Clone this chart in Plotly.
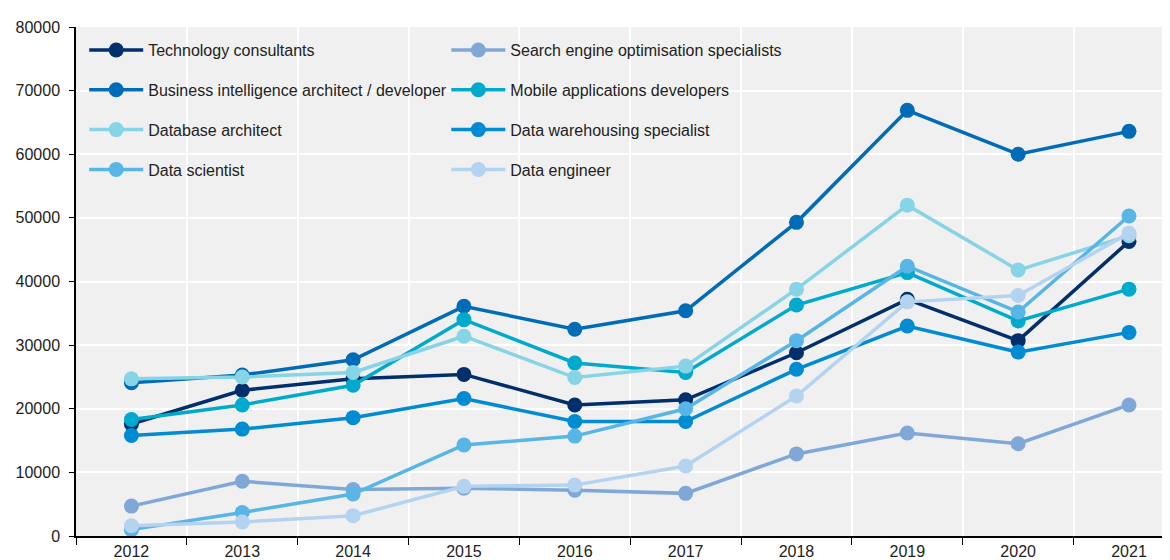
import plotly.graph_objects as go

years = ["2012", "2013", "2014", "2015", "2016", "2017", "2018", "2019", "2020", "2021"]

tech_consultants = [17600, 22900, 24700, 25400, 20600, 21400, 28800, 37200, 30700, 46300]
seo_specialists = [4700, 8600, 7300, 7500, 7200, 6700, 12900, 16200, 14500, 20600]
bi_architect = [24100, 25300, 27700, 36100, 32500, 35400, 49300, 66900, 60000, 63600]
mobile_devs = [18300, 20600, 23700, 34000, 27200, 25700, 36300, 41400, 33800, 38800]
database_architect = [24700, 25000, 25700, 31400, 24900, 26700, 38800, 52000, 41800, 47200]
data_warehousing = [15800, 16800, 18600, 21600, 18000, 18000, 26200, 33000, 28900, 32000]
data_scientist = [1000, 3700, 6600, 14300, 15700, 20000, 30700, 42400, 35200, 50300]
data_engineer = [1600, 2200, 3200, 7800, 8000, 11000, 22000, 36800, 37800, 47600]

# name, values, colour, which legend column
series = [
    ("Technology consultants", tech_consultants, "#002F6C", "legend"),
    ("Search engine optimisation specialists", seo_specialists, "#7FA8D9", "legend2"),
    ("Business intelligence architect / developer", bi_architect, "#006BB6", "legend"),
    ("Mobile applications developers", mobile_devs, "#00AACC", "legend2"),
    ("Database architect", database_architect, "#86D4E5", "legend"),
    ("Data warehousing specialist", data_warehousing, "#008BD2", "legend2"),
    ("Data scientist", data_scientist, "#57B6E6", "legend"),
    ("Data engineer", data_engineer, "#B3D3F0", "legend2"),
]

fig = go.Figure()
for name, vals, col, leg in series:
    fig.add_trace(go.Scatter(
        x=years, y=vals, name=name, mode="lines+markers",
        line=dict(color=col, width=3.5),
        marker=dict(color=col, size=15),
        legend=leg, legendgroup=name,
    ))

font = dict(family="Arial, Liberation Sans, sans-serif", size=16, color="#222222")

leg_common = dict(
    orientation="v", yanchor="top", xanchor="left",
    itemwidth=54, tracegroupgap=16,
    bgcolor="rgba(0,0,0,0)", font=font,
)

# page body has an 8px margin, so margins are shifted to compensate
fig.update_layout(
    width=1170, height=560, autosize=False,
    margin=dict(l=66, r=8, t=19, b=31),
    paper_bgcolor="white", plot_bgcolor="#F0F0F0",
    font=font,
    legend=dict(x=0.0075, y=0.988, **leg_common),
    legend2=dict(x=0.3385, y=0.988, **leg_common),
    showlegend=True,
)

fig.update_xaxes(
    type="category", range=[-0.5, 9.37],
    tickson="boundaries", ticks="outside", ticklen=7, tickcolor="black",
    showgrid=True, gridcolor="white", gridwidth=2,
    showline=True, linecolor="black", linewidth=1.5,
    tickfont=font, fixedrange=True,
)
fig.update_yaxes(
    range=[0, 80000], dtick=10000, tickformat="d",
    ticks="outside", ticklen=5, tickcolor="black",
    ticklabelstandoff=6,
    showgrid=True, gridcolor="white", gridwidth=2,
    showline=True, linecolor="black", linewidth=1.5,
    zeroline=False, tickfont=font, fixedrange=True,
)

fig.write_html("out.html")
